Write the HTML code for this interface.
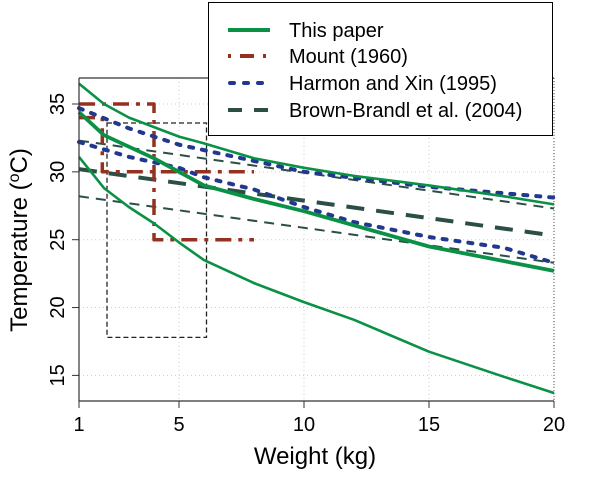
<!DOCTYPE html>
<html><head><meta charset="utf-8"><style>
html,body{margin:0;padding:0;background:#fff;}
svg{display:block;font-family:"Liberation Sans",sans-serif;}
</style></head><body>
<svg id="chart" width="594" height="499" viewBox="0 0 594 499">
<g id="grid"></g>
<g id="series"></g>
<g id="axes"></g>
<text x="315" y="464" font-size="24" text-anchor="middle">Weight (kg)</text>
<text transform="translate(27,240) rotate(-90)" font-size="24" text-anchor="middle">Temperature (<tspan baseline-shift="super" font-size="16">o</tspan>C)</text>
<g>
<rect x="208.5" y="2.5" width="344" height="133" fill="#fff" stroke="#000" stroke-width="1"/>
<line x1="228" y1="30" x2="270" y2="30" stroke="#0a9146" stroke-width="4"/>
<text x="289" y="37" font-size="20">This paper</text>
<line x1="228" y1="56" x2="270" y2="56" stroke="#94321f" stroke-width="4" stroke-dasharray="3,9,14,9"/>
<text x="289" y="63" font-size="20">Mount (1960)</text>
<line x1="230" y1="83" x2="270" y2="83" stroke="#22378e" stroke-width="4" stroke-dasharray="4,10" stroke-linecap="round"/>
<text x="289" y="90" font-size="20">Harmon and Xin (1995)</text>
<line x1="228" y1="110" x2="270" y2="110" stroke="#2b4f47" stroke-width="4" stroke-dasharray="14,12"/>
<text x="289" y="117" font-size="20">Brown-Brandl et al. (2004)</text>
</g>
</svg>
<script>
const xTicks=[1,5,10,15,20];
const yTicks=[15,20,25,30,35];
const greenW=[1,2,3,4,5,6,8,10,12,15,18,20];
const greenUpper=[36.5,35.0,34.0,33.3,32.6,32.1,31.0,30.3,29.7,29.0,28.2,27.6];
const greenMidW=[1,2,4,6,8,10,15,20];
const greenMid=[34.4,32.7,31.0,29.0,28.0,27.1,24.5,22.7];
const greenLowW=[1,2,3,4,5,6,8,9,10,12,15,18,20];
const greenLow=[31.1,28.8,27.4,26.2,24.8,23.5,21.8,21.1,20.4,19.1,16.75,14.9,13.7];
const mountAW=[1,4,4,8];
const mountA=[35,35,25,25];
const mountBW=[1,1.93,1.93,8];
const mountB=[34,34,30,30];
const harmonUpW=[1,3,5,10,15,20];
const harmonUp=[34.7,33.2,32.0,30.0,28.9,28.1];
const harmonLowW=[1,3,5,6,8,10,12,15,18,20];
const harmonLow=[32.2,31.1,30.3,29.6,28.7,27.4,26.3,25.2,24.4,23.3];
const brownW=[1,20];
const brownMid=[30.2,25.3];
const brownUp=[32.3,27.3];
const brownLow=[28.2,23.3];
const boxW=[2.12,6.1];
const boxT=[33.6,17.8];

const NS='http://www.w3.org/2000/svg';
const X0=79,X1=554,YT=78,YB=401;
function sx(w){return X0+(w-1)*25;}
function sy(t){return 104+(35-t)*13.57;}
function mk(tag,attrs,parent){const e=document.createElementNS(NS,tag);for(const k in attrs)e.setAttribute(k,attrs[k]);parent.appendChild(e);return e;}
const grid=document.getElementById('grid'),series=document.getElementById('series'),axes=document.getElementById('axes');
xTicks.forEach(v=>{
  const g=mk('line',{x1:sx(v),x2:sx(v),y1:YT,y2:YB,stroke:'#ccc','stroke-width':1,'stroke-dasharray':'1,3'},grid);
  
  
  const t=mk('line',{x1:sx(v),x2:sx(v),y1:YB,y2:YB+7,stroke:'#333','stroke-width':1},axes);
  
  
  const l=mk('text',{x:sx(v),y:YB+30,'font-size':20,'text-anchor':'middle'},axes);l.textContent=v;
  
  
});
yTicks.forEach(v=>{
  const g=mk('line',{x1:X0,x2:X1,y1:sy(v),y2:sy(v),stroke:'#ccc','stroke-width':1,'stroke-dasharray':'1,3'},grid);
  
  
  const t=mk('line',{x1:X0-7,x2:X0,y1:sy(v),y2:sy(v),stroke:'#333','stroke-width':1},axes);
  
  
  const l=mk('text',{transform:`translate(${X0-15},${sy(v)}) rotate(-90)`,'font-size':20,'text-anchor':'middle'},axes);l.textContent=v;
  
  
});
const frame=mk('path',{d:`M${X0},${YT}H${X1}M${X0},${YT}V${YB}H${X1}`,stroke:'#333','stroke-width':1.2,fill:'none'},axes);


const rframe=mk('line',{x1:X1,x2:X1,y1:YT,y2:YB,stroke:'#555','stroke-width':1,'stroke-dasharray':'1,2'},axes);


function poly(ws,ts,style,name){
  const d=ws.map((w,i)=>(i?'L':'M')+sx(w).toFixed(1)+','+sy(ts[i]).toFixed(1)).join('');
  const p=mk('path',Object.assign({d:d,fill:'none','stroke-linejoin':'round'},style),series);
  
  
}
const box=mk('rect',{x:sx(boxW[0]),y:sy(boxT[0]),width:sx(boxW[1])-sx(boxW[0]),height:sy(boxT[1])-sy(boxT[0]),fill:'none',stroke:'#222','stroke-width':1.3,'stroke-dasharray':'5,3'},series);


const thinDash={stroke:'#2b4f47','stroke-width':2,'stroke-dasharray':'10,7'};
poly(brownW,brownUp,thinDash,'brown-brandl-upper');
poly(brownW,brownLow,thinDash,'brown-brandl-lower');
poly(brownW,brownMid,{stroke:'#2b4f47','stroke-width':4,'stroke-dasharray':'18,12'},'brown-brandl-mid');
const mStyle={stroke:'#94321f','stroke-width':3.5,'stroke-dasharray':'16,7,4,7'};
poly(mountAW,mountA,mStyle,'mount-upper');
poly(mountBW,mountB,mStyle,'mount-lower');
const hStyle={stroke:'#22378e','stroke-width':4,'stroke-dasharray':'4,9','stroke-linecap':'round'};
poly(harmonUpW,harmonUp,hStyle,'harmon-upper');
poly(harmonLowW,harmonLow,hStyle,'harmon-lower');
poly(greenW,greenUpper,{stroke:'#0a9146','stroke-width':2.6},'this-paper-upper');
poly(greenMidW,greenMid,{stroke:'#0a9146','stroke-width':3.8},'this-paper-mid');
poly(greenLowW,greenLow,{stroke:'#0a9146','stroke-width':2.6},'this-paper-lower');
</script>
</body></html>
